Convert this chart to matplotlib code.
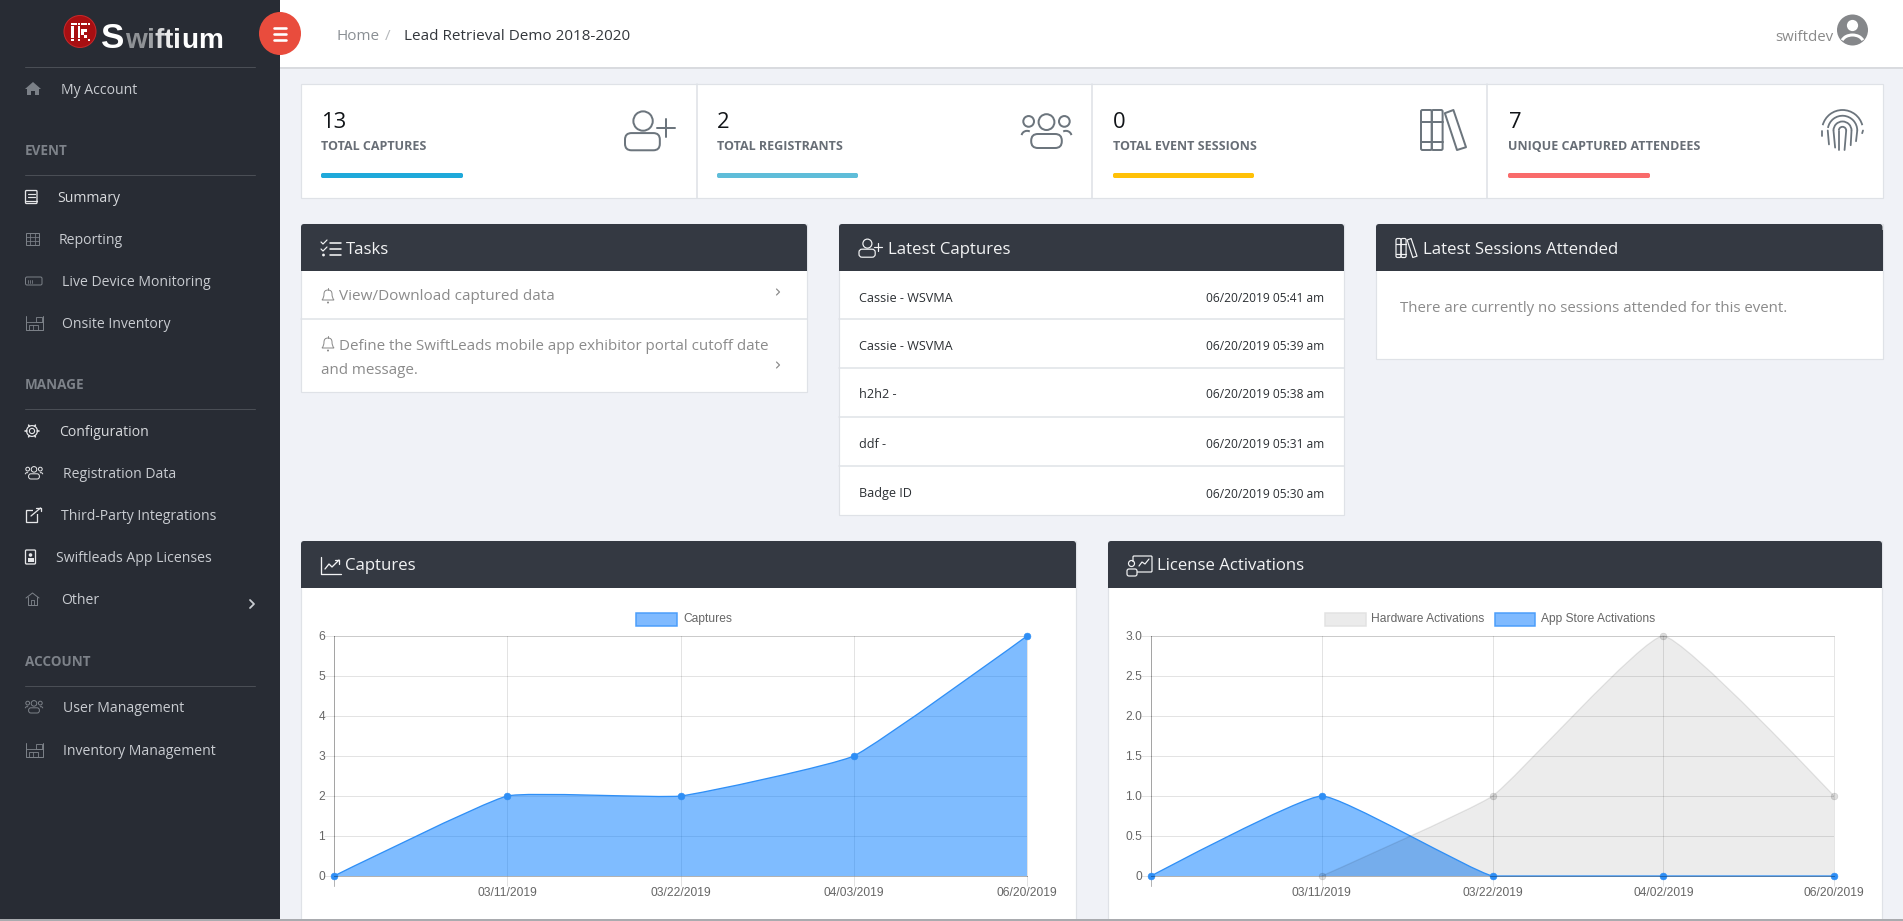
import numpy as np
import matplotlib
matplotlib.use("Agg")
import matplotlib.pyplot as plt
from matplotlib.patches import Rectangle, Circle, Ellipse, FancyBboxPatch, PathPatch, Arc, Polygon
from matplotlib.path import Path

# ---------- data ----------
capture_labels = ["", "03/11/2019", "03/22/2019", "04/03/2019", "06/20/2019"]
capture_values = [0, 2, 2, 3, 6]
license_labels = ["", "03/11/2019", "03/22/2019", "04/02/2019", "06/20/2019"]
hardware_values = [None, 0, 1, 3, 1]
appstore_values = [0, 1, 0, 0, 0]
stat_numbers = ["13", "2", "0", "7"]
stat_labels = ["TOTAL CAPTURES", "TOTAL REGISTRANTS", "TOTAL EVENT SESSIONS", "UNIQUE CAPTURED ATTENDEES"]
capture_names = ["Cassie - WSVMA", "Cassie - WSVMA", "h2h2 -", "ddf -", "Badge ID"]
capture_times = ["06/20/2019 05:41 am", "06/20/2019 05:39 am", "06/20/2019 05:38 am",
                 "06/20/2019 05:31 am", "06/20/2019 05:30 am"]

W, H = 1903, 921
plt.rcParams["font.family"] = ["Open Sans", "DejaVu Sans"]
fig = plt.figure(figsize=(W / 72, H / 72), dpi=72, facecolor="#f0f2f7")
ui = fig.add_axes([0, 0, 1, 1], zorder=0)
ui.set_xlim(0, W); ui.set_ylim(H, 0); ui.axis("off")

SIDE = "#282c34"; HEAD = "#343942"; BORDER = "#dfe2e7"; ICON = "#6c757d"; SIDETXT = "#c9ccd1"; DIM = "#7d8289"


def rect(x0, y0, x1, y1, fc, ec="none", lw=0, z=1):
    ui.add_patch(Rectangle((x0, y0), x1 - x0, y1 - y0, fc=fc, ec=ec, lw=lw, zorder=z))


def rrect(x0, y0, x1, y1, r, fc="none", ec="none", lw=0, z=3):
    ui.add_patch(FancyBboxPatch((x0 + r, y0 + r), x1 - x0 - 2 * r, y1 - y0 - 2 * r,
                                boxstyle=f"round,pad={r},rounding_size={r}", fc=fc, ec=ec, lw=lw, zorder=z))


def line(xs, ys, c, lw=1.0, z=3):
    ui.plot(xs, ys, color=c, lw=lw, zorder=z, solid_capstyle="round", solid_joinstyle="round")


def circ(x, y, r, fc="none", ec="none", lw=0, z=3):
    ui.add_patch(Circle((x, y), r, fc=fc, ec=ec, lw=lw, zorder=z))


def arc(x, y, w, h, a, b, c, lw=1.0, z=3):
    ui.add_patch(Arc((x, y), w, h, theta1=a, theta2=b, color=c, lw=lw, zorder=z))


def txt(x, y, s, size, c, ha="left", weight="normal", **kw):
    return ui.text(x, y + 2, s, fontsize=size, color=c, ha=ha, va="center", fontweight=weight, zorder=5, **kw)


# ---------- icons ----------
def ic_user_plus(x, y, s, c, lw):
    circ(x + .42 * s, y + .28 * s, .225 * s, ec=c, lw=lw)
    rrect(x, y + .56 * s, x + .81 * s, y + .96 * s, .15 * s, ec=c, lw=lw)
    line([x + .74 * s, x + 1.16 * s], [y + .44 * s] * 2, c, lw)
    line([x + .95 * s] * 2, [y + .23 * s, y + .65 * s], c, lw)


def ic_users(x, y, w, h, c, lw):
    circ(x + .5 * w, y + .26 * h, .155 * w, ec=c, lw=lw)
    circ(x + .15 * w, y + .24 * h, .105 * w, ec=c, lw=lw)
    circ(x + .85 * w, y + .24 * h, .105 * w, ec=c, lw=lw)
    rrect(x + .2 * w, y + .6 * h, x + .8 * w, y + h, .13 * w, ec=c, lw=lw)
    arc(x + .12 * w, y + .66 * h, .22 * w, .3 * h, 190, 300, c, lw)
    arc(x + .88 * w, y + .66 * h, .22 * w, .3 * h, 240, 350, c, lw)


def ic_books(x, y, w, h, c, lw):
    rrect(x, y, x + .24 * w, y + h, 1.5, ec=c, lw=lw)
    rrect(x + .24 * w, y, x + .48 * w, y + h, 1.5, ec=c, lw=lw)
    for f in (.29, .79):
        line([x, x + .48 * w], [y + f * h] * 2, c, lw)
    ui.add_patch(Polygon([(x + .53 * w, y + .08 * h), (x + .72 * w, y), (x + w, y + .93 * h), (x + .80 * w, y + h)],
                         fc="none", ec=c, lw=lw, zorder=3, joinstyle="round"))


def ic_finger(x, y, w, h, c, lw):
    cx = x + w / 2
    for f, a, b in ((1.0, 195, 345), (.72, 190, 360), (.44, 180, 360), (.18, 180, 360)):
        arc(cx, y + .5 * w, w * f, w * f, a, b, c, lw)
    line([cx - .5 * w, cx - .5 * w], [y + .5 * w, y + .66 * h], c, lw)
    line([cx - .36 * w, cx - .33 * w], [y + .5 * w, y + .86 * h], c, lw)
    line([cx - .22 * w, cx - .18 * w], [y + .5 * w, y + .94 * h], c, lw)
    line([cx - .09 * w, cx - .09 * w], [y + .5 * w, y + h], c, lw)
    line([cx + .09 * w, cx + .05 * w], [y + .5 * w, y + h], c, lw)
    line([cx + .22 * w, cx + .2 * w], [y + .5 * w, y + .88 * h], c, lw)
    line([cx + .36 * w, cx + .33 * w], [y + .5 * w, y + .78 * h], c, lw)
    line([cx + .5 * w, cx + .48 * w], [y + .5 * w, y + .58 * h], c, lw)


def ic_bell(x, y, c, lw=1.0):
    ui.add_patch(PathPatch(Path([(x + 1, y + 12), (x + 3, y + 10), (x + 3, y + 6), (x + 3, y + 2), (x + 7, y + 2),
                                 (x + 11, y + 2), (x + 11, y + 6), (x + 11, y + 10), (x + 13, y + 12), (x + 1, y + 12)],
                                [1, 3, 3, 3, 3, 3, 3, 3, 3, 79]), fc="none", ec=c, lw=lw, zorder=3))
    circ(x + 7, y + 14.5, 1, fc=c)
    line([x + 7, x + 7], [y, y + 2], c, lw)


def ic_chev(x, y, s, c, lw):
    line([x - s / 2, x + s / 2, x - s / 2], [y - s, y, y + s], c, lw)


def ic_check(x, y, c):
    for i, dy in enumerate((3, 9, 15)):
        line([x + 9, x + 20], [y + dy] * 2, c, 1.6)
    line([x, x + 2, x + 6], [y + 2, y + 4, y], c, 1.2)
    line([x, x + 2, x + 6], [y + 9, y + 11, y + 7], c, 1.2)
    circ(x + 2.5, y + 15, 1.4, fc=c)


def ic_trend(x, y, c):
    line([x, x, x + 20], [y, y + 17, y + 17], c, 1.3)
    line([x + 4, x + 8, x + 11, x + 18], [y + 12, y + 7, y + 10, y + 3], c, 1.3)
    line([x + 14, x + 18, x + 18], [y + 3, y + 3, y + 7], c, 1.3)


def ic_license(x, y, c):
    rrect(x + 6, y, x + 25, y + 16, 1, ec=c, lw=1.2)
    line([x + 12, x + 15, x + 18, x + 22], [y + 10, y + 6, y + 8, y + 3], c, 1.2)
    rect(x - .5, y + 6, x + 10, y + 21, HEAD, z=3.5)
    ui.add_patch(Circle((x + 4.5, y + 7.5), 3, fc="none", ec=c, lw=1.2, zorder=4))
    rrect(x, y + 13, x + 10, y + 20, 2, ec=c, lw=1.2, z=4)


# ---------- page chrome ----------
rect(280, 0, W, 68, "white")
rect(280, 67, W, 69, "#d9dbdf")
rect(0, 0, 280, H, SIDE, z=2)
rect(0, 919, W, H, "#a9abaf", z=4)
ui.add_patch(Ellipse((280, 33.5), 42, 43, fc="#e94c3d", zorder=3))
for dy in (-6, 0, 6):
    line([274, 286], [33.5 + dy] * 2, "white", 2.6, z=4)

# logo
circ(80, 31.5, 16, fc="#a80f12", ec="#c8282a", lw=1)
logo_grid = ["111111", "1 1   ", "1 111 ", "1 11  ", "1 1 1 ", "1 1  1"]
for r, row in enumerate(logo_grid):
    for k, v in enumerate(row):
        if v == "1":
            rect(71 + k * 3.3, 23 + r * 3.1, 73.6 + k * 3.3, 25.4 + r * 3.1, "white", z=4)
lx = 101
t = ui.text(lx, 47.5, "S", fontsize=35, fontweight="bold", color="white", family="Liberation Sans", zorder=5, va="baseline")
letters = [("w", "#8f9296"), ("i", "#9ea1a5"), ("f", "#d7d8da"), ("t", "#ececec"), ("i", "#f6f6f6"), ("u", "white"), ("m", "white")]
fig.canvas.draw()
rend = fig.canvas.get_renderer()
lx += t.get_window_extent(rend).width + .5
for ch, col in letters:
    t = ui.text(lx, 47.5, ch, fontsize=28, fontweight="bold", color=col, family="Liberation Sans", zorder=5, va="baseline")
    lx += t.get_window_extent(rend).width

# breadcrumb + user
txt(337, 34.5, "Home", 15.2, "#8a8f94")
txt(385, 34.5, "/", 15.2, "#b5b8bb")
txt(404, 34.5, "Lead Retrieval Demo 2018-2020", 15.2, "#33373c")
txt(1833, 35.5, "swiftdev", 15, "#8a8a8a", ha="right")
circ(1852.5, 30, 15.5, fc="#85878a")
circ(1852.5, 25.5, 5.6, fc="white")
ui.add_patch(Arc((1852.5, 43), 22, 16, theta1=195, theta2=345, color="white", lw=3, zorder=4))

# ---------- sidebar ----------
for yy in (67, 175, 409, 686):
    line([25, 255], [yy, yy], "#4a4e55", 1)
for yy, s in ((149, "EVENT"), (383, "MANAGE"), (659.5, "ACCOUNT")):
    txt(25, yy, s, 13.5, DIM, weight="bold")
side_items = [("My Account", 61, 89, SIDETXT), ("Summary", 57, 197, "#d9dbde"), ("Reporting", 59, 239, SIDETXT),
              ("Live Device Monitoring", 62.5, 281, SIDETXT), ("Onsite Inventory", 62.5, 323, SIDETXT),
              ("Configuration", 59, 431, "#d9dbde"), ("Registration Data", 63, 473, SIDETXT),
              ("Third-Party Integrations", 61, 515, SIDETXT), ("Swiftleads App Licenses", 56, 557, SIDETXT),
              ("Other", 61, 599, SIDETXT), ("User Management", 63, 707, SIDETXT), ("Inventory Management", 63, 749.5, SIDETXT)]
for s, xx, yy, c in side_items:
    txt(xx, yy, s, 14, c)
ic_chev(252, 604, 4, "#c9ccd1", 1.8)
G = "#7b8087"; B = "#e6e7e9"
# home
ui.add_patch(Polygon([(25, 89), (33, 82), (41, 89), (39, 89), (39, 95), (35, 95), (35, 91), (31, 91), (31, 95), (27, 95), (27, 89)], fc=G, zorder=3))
# summary book
rrect(25.5, 190.5, 37, 203.5, 1, ec=B, lw=1.3)
line([28, 34.5], [194, 194], B, 1.2); line([28, 34.5], [197, 197], B, 1.2); line([25.5, 37], [201, 201], B, 1.2)
# table
rect(25.5, 233, 39, 245, "none", ec=G, lw=1, z=3)
for f in (30, 34.5):
    line([f, f], [233, 245], G, .8)
for f in (237, 241):
    line([25.5, 39], [f, f], G, .8)
# battery
rrect(25.5, 277, 42, 285, 1.5, ec=G, lw=1)
for xx in (28, 30, 32):
    line([xx, xx], [279.5, 282.5], G, .8)


def ic_store(x, y, c):
    line([x, x, x + 17.5, x + 17.5], [y, y + 13.5, y + 13.5, y], c, 1)
    line([x, x + 8, x + 8, x + 17.5], [y + 6, y + 6, y + 6, y + 6], c, .9)
    rect(x + 3, y + 8.5, x + 12, y + 13.5, "none", ec=c, lw=.9, z=3)
    line([x + 7.5, x + 7.5], [y + 8.5, y + 13.5], c, .8)
    rect(x + 10.5, y + 1, x + 16, y + 6, "none", ec=c, lw=.9, z=3)


ic_store(25.5, 316, G)
ic_store(25.5, 743, G)
# gear
circ(32, 431, 2.6, ec=B, lw=1.1)
circ(32, 431, 5.4, ec=B, lw=1.2, z=3)
for a in np.deg2rad(np.arange(0, 360, 60)):
    line([32 + 5.4 * np.cos(a), 32 + 6.8 * np.cos(a)], [431 + 5.4 * np.sin(a), 431 + 6.8 * np.sin(a)], B, 1.6)


def ic_users_small(x, y, c):
    ic_users(x, y, 18, 13, c, 1)


ic_users_small(25, 466, B)
ic_users_small(25, 700, G)
# external link
rect(25.5, 510, 37, 521.5, "none", ec=B, lw=1.3, z=3)
rect(33, 507, 42, 514, SIDE, z=3.1)
line([31, 40.5], [516, 508], B, 1.3, z=4)
line([35.5, 40.5, 40.5], [508, 508, 511], B, 1.3, z=4)
# badge
rrect(25.5, 550, 35.5, 564, 1, ec=B, lw=1.3)
circ(30.5, 555, 1.8, fc=B)
rect(27.5, 558, 33.5, 562, B, z=4)
# outline home
line([26, 32.5, 39], [598, 593, 598], G, 1)
line([28, 28, 37, 37], [597, 604.5, 604.5, 597], G, 1)
line([31, 31, 34, 34], [604.5, 600, 600, 604.5], G, .9)

# ---------- stat cards ----------
rect(300.5, 84, 1882.5, 198, "white", ec=BORDER, lw=1.2)
for xx in (696.5, 1091.5, 1487):
    line([xx, xx], [84, 198], BORDER, 1.6)
sx = [321, 717, 1113, 1508.5]
bars = [(321, 463, "#1fa9da"), (717, 858, "#5fbdd9"), (1113, 1254, "#ffc107"), (1508, 1650, "#f96b6b")]
for n, l, xx, (b0, b1, col) in zip(stat_numbers, stat_labels, sx, bars):
    txt(xx, 120.5, n, 22, "#111418")
    txt(xx, 145, l, 12.5, "#686e76", weight="bold")
    rrect(b0, 173, b1, 178, 1.8, fc=col, z=4)
ic_user_plus(625, 109, 43, ICON, 2)
ic_users(1021, 113, 51, 35, ICON, 2)
ic_books(1421, 110, 45, 40, ICON, 2)
ic_finger(1822, 110, 41, 40, ICON, 1.8)


# ---------- panels ----------
def panel(x0, x1, y0, ybot, y1):
    rect(x0, y0, x1, y1, "white", ec=BORDER, lw=1.2, z=1)
    rrect(x0, y0, x1, y0 + 12, 3, fc=HEAD, z=1.5)
    rect(x0, y0 + 6, x1, ybot, HEAD, z=1.5)


panel(301, 807, 224, 271, 392)
panel(839, 1344, 224, 271, 515)
panel(1376, 1882.5, 224, 271, 359)
panel(301, 1076, 541, 588, 925)
panel(1108, 1882, 541, 588, 925)
HT = "#f2f3f4"
ic_check(321, 240, HT)
txt(346, 247.5, "Tasks", 16.8, HT)
ic_user_plus(859, 238, 20, HT, 1.2)
txt(888, 247.5, "Latest Captures", 16.8, HT)
ic_books(1396, 238.5, 21, 19, HT, 1.2)
txt(1423, 247.5, "Latest Sessions Attended", 16.8, HT)
ic_trend(321, 557, HT)
txt(345, 564.5, "Captures", 16.8, HT)
ic_license(1127, 556, HT)
txt(1157, 564.5, "License Activations", 16.8, HT)

# tasks
TG = "#8b8b8b"
ic_bell(321, 288, TG)
txt(339, 295, "View/Download captured data", 15.2, TG)
ic_chev(778, 292, 3, TG, 1.2)
line([301, 807], [319, 319], BORDER, 1.5)
ic_bell(321, 336, TG)
txt(339, 344, "Define the SwiftLeads mobile app exhibitor portal cutoff date", 15.1, TG)
txt(321, 368, "and message.", 15.1, TG)
ic_chev(778, 365, 3, TG, 1.2)

# captures list
row_y = [296, 345, 393, 442, 492]
row_line = [319, 368, 417, 466]
for yy in row_line:
    line([839, 1344], [yy, yy], BORDER, 1.5)
for yy, a, b in zip(row_y, capture_names, capture_times):
    txt(859, yy, a, 12.6, "#2b2f33")
    txt(1324.5, yy, b, 12, "#2b2f33", ha="right")

# sessions
txt(1400, 306.5, "There are currently no sessions attended for this event.", 15, TG)


# ---------- charts ----------
def bezier_path(xs, ys, ax_box, ymax, tension=0.12):
    """Chart.js style spline through the data points, as Bezier control points in data units."""
    xs = np.asarray(xs, float); ys = np.asarray(ys, float)
    sx_, sy_ = ax_box[0] / 4.0, ax_box[1] / ymax
    pts = np.c_[xs * sx_, ys * sy_]
    n = len(pts)
    prev_cp, next_cp = pts.copy(), pts.copy()
    for i in range(1, n - 1):
        d01 = np.hypot(*(pts[i] - pts[i - 1])); d12 = np.hypot(*(pts[i + 1] - pts[i]))
        s = d01 + d12
        v = pts[i + 1] - pts[i - 1]
        prev_cp[i] = pts[i] - tension * d01 / s * v
        next_cp[i] = pts[i] + tension * d12 / s * v
    verts = [tuple(pts[0])]; codes = [Path.MOVETO]
    for i in range(1, n):
        verts += [tuple(next_cp[i - 1]), tuple(prev_cp[i]), tuple(pts[i])]
        codes += [Path.CURVE4] * 3
    v = np.array(verts) / [sx_, sy_]
    v[:, 1] = np.clip(v[:, 1], 0, ymax)  # control points stay inside the plot area
    return v, codes


def draw_area(ax, xs, ys, box, ymax, fill, edge, pt, lw=1.3):
    v, codes = bezier_path(xs, ys, box, ymax)
    closed = np.vstack([v, [xs[-1], 0], [xs[0], 0], v[0]])
    ax.add_patch(PathPatch(Path(closed, codes + [Path.LINETO, Path.LINETO, Path.CLOSEPOLY]), fc=fill, ec="none",
                           zorder=2.2, clip_on=False))
    ax.add_patch(PathPatch(Path(v, codes), fc="none", ec=edge, lw=lw, zorder=2.4, clip_on=False))
    ax.plot(xs, ys, ls="none", marker="o", ms=6.8, mfc=pt, mec=pt, mew=0.6, zorder=3, clip_on=False)


def make_axes(left, right, labels, yticks, ylabels):
    top, bottom = 636, 876
    ax = fig.add_axes([left / W, 1 - bottom / H, (right - left) / W, (bottom - top) / H], zorder=2)
    ax.patch.set_alpha(0)
    ax.set_xlim(0, 4); ax.set_ylim(0, yticks[-1])
    ax.set_xticks(range(5)); ax.set_xticklabels(labels)
    ax.set_yticks(yticks); ax.set_yticklabels(ylabels)
    ax.grid(True, color="black", alpha=.11, lw=1, zorder=1)
    ax.set_axisbelow(True)
    ax.tick_params(axis="both", length=10, width=1, color=(0, 0, 0, .11), labelcolor="#666666", labelsize=12, pad=-1)
    ax.tick_params(axis="x", pad=1)
    for lab in ax.get_xticklabels() + ax.get_yticklabels():
        lab.set_family("Liberation Sans")
    for k, sp in ax.spines.items():
        sp.set_color((0, 0, 0, .1)); sp.set_linewidth(1)
    ax.spines["left"].set_color((0, 0, 0, .27))
    ax.spines["bottom"].set_color((0, 0, 0, .3))
    ax.spines["bottom"].set_zorder(4)
    ax.plot([0, 0], [0, -10 * yticks[-1] / 240], color=(0, 0, 0, .2), lw=1, clip_on=False, zorder=1)
    return ax


def legend_item(x0, x1, tx, label, fc, ec):
    rect(x0, 613, x1, 626, fc, ec=ec, lw=1.5, z=3)
    ui.text(tx, 619, label, fontsize=12, color="#666666", family="Liberation Sans", va="center", zorder=5)


BLUE_F = (0, 123 / 255, 1, .5); BLUE_E = "#2f8ff6"; BLUE_P = "#2e8ef5"
GRAY_F = (0, 0, 0, .075); GRAY_E = (0, 0, 0, .09); GRAY_P = (0, 0, 0, .13)

ax1 = make_axes(334, 1027, capture_labels, [0, 1, 2, 3, 4, 5, 6], list("0123456"))
xs = list(range(5))
draw_area(ax1, xs, capture_values, (693, 240), 6, BLUE_F, BLUE_E, BLUE_P)
legend_item(635.5, 677, 683, "Captures", "#7fbaff", "#4a9dfa")

ax2 = make_axes(1151, 1834, license_labels, [0, .5, 1, 1.5, 2, 2.5, 3], ["0", "0.5", "1.0", "1.5", "2.0", "2.5", "3.0"])
draw_area(ax2, xs, appstore_values, (683, 240), 3, BLUE_F, BLUE_E, BLUE_P)
hx = [x for x, v in zip(xs, hardware_values) if v is not None]
hy = [v for v in hardware_values if v is not None]
draw_area(ax2, hx, hy, (683, 240), 3, GRAY_F, GRAY_E, GRAY_P)
legend_item(1325, 1366, 1371, "Hardware Activations", "#ebebeb", "#e2e2e2")
legend_item(1494.5, 1535, 1541, "App Store Activations", "#7fbaff", "#4a9dfa")

fig.savefig("out.png", dpi=72, facecolor=fig.get_facecolor())
